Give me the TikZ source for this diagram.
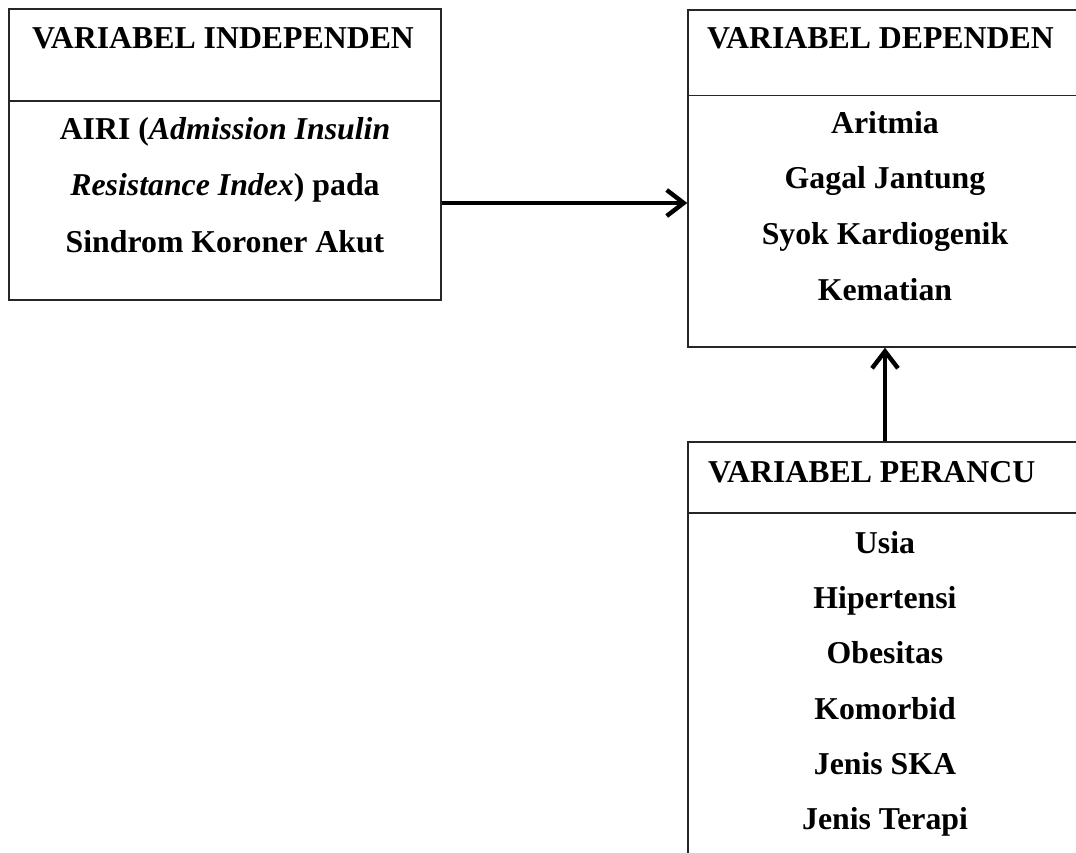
\documentclass[tikz,border=0pt]{standalone}
\usepackage{fontspec}
\setmainfont{Liberation Serif}
\usetikzlibrary{arrows.meta}
\tikzset{
  boxframe/.style={draw=black!85, line width=1.4pt, rectangle, inner sep=0pt},
  divider/.style={draw=black!85, line width=1.8pt},
  txt/.style={inner sep=0pt, anchor=base, font=\fontsize{31.8}{38}\selectfont\bfseries},
  ttl/.style={inner sep=0pt, anchor=base west, font=\fontsize{31.8}{38}\selectfont\bfseries},
  conn/.style={line width=4.4pt, -{Straight Barb[length=17pt, width=26pt, line width=4.4pt]}}
}
\begin{document}
\begin{tikzpicture}[x=1pt, y=-1pt]
\useasboundingbox (0,0) rectangle (1076,853);
\clip (0,0) rectangle (1076,853);
\fill[white] (0,0) rectangle (1076,853);
% boxes
\node[boxframe, minimum width=432pt, minimum height=291pt] (indep) at (225,154.5) {};
\node[boxframe, minimum width=394pt, minimum height=337pt] (dep) at (885,178.5) {};
\node[boxframe, minimum width=394pt, minimum height=460pt] (conf) at (885,672) {};
% dividers
\coordinate (d1a) at (9,101); \coordinate (d1b) at (441,101);
\draw[divider] (d1a) -- (d1b);
\coordinate (d2a) at (688,95.5); \coordinate (d2b) at (1082,95.5);
\draw[divider] (d2a) -- (d2b);
\coordinate (d3a) at (688,513); \coordinate (d3b) at (1082,513);
\draw[divider] (d3a) -- (d3b);
% titles
\node[txt] (t1) at (223,49) {VARIABEL INDEPENDEN};
\node[ttl] (t2) at (707,49) {VARIABEL DEPENDEN};
\node[ttl] (t3) at (708,482) {VARIABEL PERANCU};
% independent body
\node[txt] (i1) at (225,140) {AIRI (\textit{Admission Insulin}};
\node[txt] (i2) at (225,196) {\textit{Resistance Index}) pada};
\node[txt] (i3) at (225,252) {Sindrom Koroner Akut};
% dependent body
\node[txt] (e1) at (885,134) {Aritmia};
\node[txt] (e2) at (885,189) {Gagal Jantung};
\node[txt] (e3) at (885,244.5) {Syok Kardiogenik};
\node[txt] (e4) at (885,300) {Kematian};
% confounder body
\node[txt] (c1) at (885,553) {Usia};
\node[txt] (c2) at (885,608) {Hipertensi};
\node[txt] (c3) at (885,663.5) {Obesitas};
\node[txt] (c4) at (885,719) {Komorbid};
\node[txt] (c5) at (885,774) {Jenis SKA};
\node[txt] (c6) at (885,829.5) {Jenis Terapi};
% connectors
\draw[conn] (indep.east |- 0,203) -- (dep.west |- 0,203);
\draw[conn] (conf.north) -- (dep.south);
\end{tikzpicture}
\end{document}
